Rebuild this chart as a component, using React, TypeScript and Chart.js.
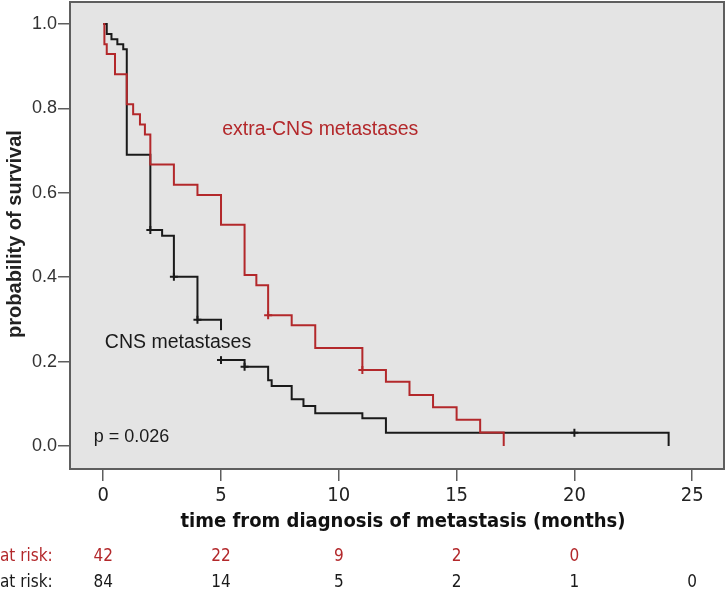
import React, { useEffect, useRef } from "react";
import { Chart, registerables } from "chart.js";

Chart.register(...registerables);

// ---------- data ----------
const X_TICKS = [0, 5, 10, 15, 20, 25];
const Y_TICKS = [0, 0.2, 0.4, 0.6, 0.8, 1.0];

// extra-CNS metastases (red)
const RED_TIMES = [0, 0.05, 0.15, 0.5, 1.0, 1.27, 1.56, 1.77, 2.0, 3.0, 4.0, 5.0, 6.0, 6.5, 7.0, 8.0, 9.0, 11.0, 12.0, 13.0, 14.0, 15.0, 16.0, 17.0];
const RED_SURV = [1.0, 0.952, 0.929, 0.881, 0.81, 0.786, 0.762, 0.738, 0.667, 0.619, 0.595, 0.524, 0.405, 0.381, 0.31, 0.286, 0.232, 0.18, 0.152, 0.121, 0.092, 0.062, 0.032, 0.0];
const RED_CENSOR_T = [7.0, 11.0];
const RED_CENSOR_S = [0.31, 0.18];

// CNS metastases (black)
const BLACK_TIMES = [0, 0.15, 0.35, 0.6, 0.85, 1.0, 2.0, 2.5, 3.0, 4.0, 5.0, 5.0, 6.0, 7.0, 7.15, 8.0, 8.5, 9.0, 11.0, 12.0, 24.0];
const BLACK_SURV = [1.0, 0.976, 0.964, 0.952, 0.94, 0.69, 0.512, 0.498, 0.401, 0.299, 0.275, 0.204, 0.188, 0.156, 0.142, 0.111, 0.095, 0.0775, 0.0656, 0.0316, 0.0];
const BLACK_CENSOR_T = [2.0, 3.0, 4.0, 5.0, 6.0, 20.0];
const BLACK_CENSOR_S = [0.512, 0.401, 0.299, 0.204, 0.188, 0.0316];

// numbers at risk
const RISK_TIMES = [0, 5, 10, 15, 20, 25];
const RED_AT_RISK = [42, 22, 9, 2, 0];
const BLACK_AT_RISK = [84, 14, 5, 2, 1, 0];

const RED = "#b3282b";
const BLACK = "#1a1a1a";
const NARROW = '"Liberation Sans Narrow", "DejaVu Sans Condensed", "Liberation Sans", sans-serif';
const ARIAL = '"Liberation Sans", Arial, sans-serif';

const toPts = (t: number[], s: number[]) => t.map((v, i) => ({ x: v, y: s[i] }));

const decorPlugin = {
  id: "decor",
  beforeDraw(chart: any) {
    const { ctx, chartArea } = chart;
    const { left, top, right, bottom } = chartArea;
    ctx.save();
    ctx.fillStyle = "#e4e4e4";
    ctx.fillRect(left, top, right - left, bottom - top);
    ctx.restore();
  },
  afterDatasetsDraw(chart: any) {
    const { ctx, chartArea, scales } = chart;
    const xs = scales.x;
    const ys = scales.y;
    ctx.save();
    ctx.textBaseline = "middle";
    ctx.textAlign = "left";
    ctx.font = `19.5px ${ARIAL}`;
    ctx.fillStyle = RED;
    ctx.fillText("extra-CNS metastases", xs.getPixelForValue(5.05), ys.getPixelForValue(0.749));

    const cx = xs.getPixelForValue(0.07);
    const cy = ys.getPixelForValue(0.246);
    const w = ctx.measureText("CNS metastases").width;
    ctx.fillStyle = "#e4e4e4";
    ctx.fillRect(cx - 2, cy - 12, w + 4, 26);
    ctx.fillStyle = BLACK;
    ctx.fillText("CNS metastases", cx, cy);

    ctx.fillStyle = BLACK;
    ctx.font = `18px ${ARIAL}`;
    ctx.fillText("p = 0.026", xs.getPixelForValue(-0.4), ys.getPixelForValue(0.021));

    const { left, top, right, bottom } = chartArea;
    ctx.strokeStyle = "#5e5e5e";
    ctx.lineWidth = 2;
    ctx.strokeRect(left, top, right - left, bottom - top);
    ctx.restore();
  },
  afterDraw(chart: any) {
    const { ctx, scales } = chart;
    const xs = scales.x;
    ctx.save();
    ctx.translate(15, 234);
    ctx.rotate(-Math.PI / 2);
    ctx.textAlign = "center";
    ctx.textBaseline = "middle";
    ctx.fillStyle = "#222";
    ctx.font = `bold 20px ${ARIAL}`;
    ctx.fillText("probability of survival", 0, 0);
    ctx.restore();

    ctx.save();
    ctx.textAlign = "center";
    ctx.textBaseline = "middle";
    ctx.fillStyle = "#111";
    ctx.font = `bold 20px ${NARROW}`;
    ctx.fillText("time from diagnosis of metastasis (months)", 403, 522);

    ctx.font = `17px ${NARROW}`;
    ctx.textAlign = "left";
    ctx.fillStyle = RED;
    ctx.fillText("at risk:", 0, 557);
    ctx.fillStyle = BLACK;
    ctx.fillText("at risk:", 0, 583);
    ctx.textAlign = "center";
    ctx.fillStyle = RED;
    RED_AT_RISK.forEach((n, i) => ctx.fillText(String(n), xs.getPixelForValue(RISK_TIMES[i]), 557));
    ctx.fillStyle = BLACK;
    BLACK_AT_RISK.forEach((n, i) => ctx.fillText(String(n), xs.getPixelForValue(RISK_TIMES[i]), 583));
    ctx.restore();
  },
};

const zeroPad = (s: any) => {
  s.paddingTop = 0;
  s.paddingBottom = 0;
  s.paddingLeft = 0;
  s.paddingRight = 0;
};

export default function App() {
  const ref = useRef<HTMLCanvasElement | null>(null);
  useEffect(() => {
    if (!ref.current) return;
    const chart = new Chart(ref.current, {
      type: "scatter",
      data: {
        datasets: [
          {
            label: "extra-CNS",
            data: toPts(RED_TIMES, RED_SURV),
            showLine: true,
            stepped: "before",
            borderColor: RED,
            borderWidth: 2,
            pointRadius: 0,
          },
          {
            label: "CNS",
            data: toPts(BLACK_TIMES, BLACK_SURV),
            showLine: true,
            stepped: "before",
            borderColor: BLACK,
            borderWidth: 2,
            pointRadius: 0,
          },
          {
            label: "red censor",
            data: toPts(RED_CENSOR_T, RED_CENSOR_S),
            showLine: false,
            pointStyle: "cross",
            pointRadius: 4,
            borderColor: RED,
            borderWidth: 2,
          },
          {
            label: "black censor",
            data: toPts(BLACK_CENSOR_T, BLACK_CENSOR_S),
            showLine: false,
            pointStyle: "cross",
            pointRadius: 4,
            borderColor: BLACK,
            borderWidth: 2,
          },
        ] as any,
      },
      options: {
        animation: false,
        responsive: false,
        devicePixelRatio: 1,
        layout: { autoPadding: false, padding: { top: 2, right: 3, left: 0, bottom: 0 } },
        plugins: { legend: { display: false }, tooltip: { enabled: false } },
        scales: {
          x: {
            type: "linear",
            min: -1.41,
            max: 26.35,
            afterFit: (s: any) => { s.height = 123; zeroPad(s); },
            afterBuildTicks: (s: any) => { s.ticks = X_TICKS.map((v) => ({ value: v })); },
            grid: { drawOnChartArea: false, drawTicks: true, tickLength: 12, color: "#5e5e5e", lineWidth: 1.5 },
            border: { display: false },
            ticks: {
              autoSkip: false,
              maxRotation: 0,
              padding: 3,
              color: "#222",
              font: { family: NARROW, size: 20 },
              callback: (v: any) => String(v),
            },
          },
          y: {
            type: "linear",
            min: -0.0545,
            max: 1.052,
            afterFit: (s: any) => { s.width = 70; zeroPad(s); },
            afterBuildTicks: (s: any) => { s.ticks = Y_TICKS.map((v) => ({ value: v })); },
            grid: { drawOnChartArea: false, drawTicks: true, tickLength: 12, color: "#5e5e5e", lineWidth: 1.5 },
            border: { display: false },
            ticks: {
              padding: 1,
              color: "#333",
              font: { family: ARIAL, size: 18 },
              callback: (v: any) => Number(v).toFixed(1),
            },
          },
        },
      },
      plugins: [decorPlugin],
    } as any);
    return () => chart.destroy();
  }, []);
  return (
    <div style={{ position: "absolute", left: 0, top: 0, width: 727, height: 592, background: "#fff" }}>
      <canvas ref={ref} width={727} height={592} style={{ display: "block" }} />
    </div>
  );
}
